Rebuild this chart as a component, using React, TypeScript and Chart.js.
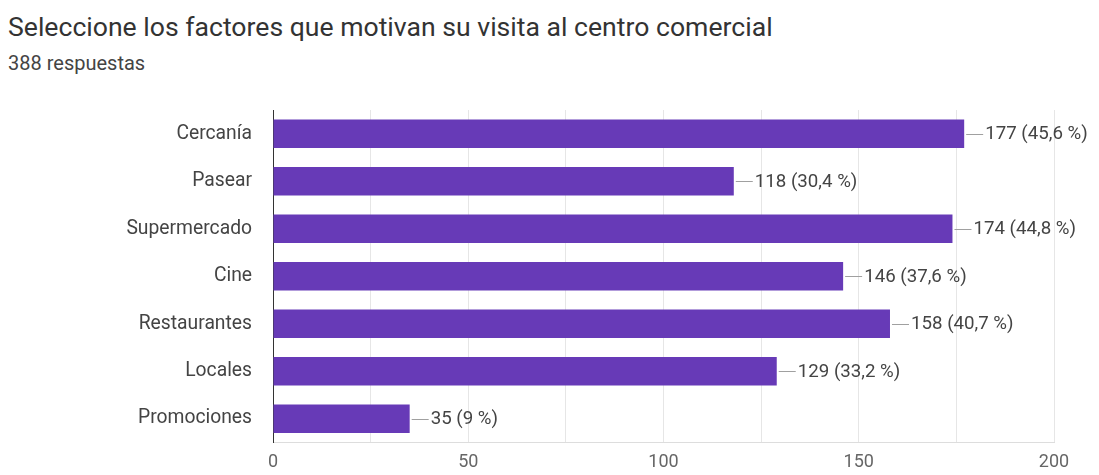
import React, { useEffect, useRef } from "react";
import { Chart, registerables } from "chart.js";

Chart.register(...registerables);

const titleText = "Seleccione los factores que motivan su visita al centro comercial";
const subtitleText = "388 respuestas";
const categories = ["Cercanía", "Pasear", "Supermercado", "Cine", "Restaurantes", "Locales", "Promociones"];
const counts = [177, 118, 174, 146, 158, 129, 35];
const percentLabels = ["45,6 %", "30,4 %", "44,8 %", "37,6 %", "40,7 %", "33,2 %", "9 %"];
const tickLabels = [0, 50, 100, 150, 200];

const FONT = "Roboto, 'Noto Sans', Arial, sans-serif";

const valueLabelPlugin = {
  id: "valueLabels",
  afterDatasetsDraw(chart: any) {
    const ctx = chart.ctx;
    const meta = chart.getDatasetMeta(0);
    ctx.save();
    meta.data.forEach((bar: any, i: number) => {
      const x = bar.x;
      const y = bar.y;
      ctx.strokeStyle = "#a0a0a0";
      ctx.lineWidth = 1;
      ctx.beginPath();
      ctx.moveTo(x + 2, Math.round(y) + 0.5);
      ctx.lineTo(x + 19, Math.round(y) + 0.5);
      ctx.stroke();
      ctx.fillStyle = "#444444";
      ctx.font = "18.7px " + FONT;
      ctx.textAlign = "left";
      ctx.textBaseline = "middle";
      ctx.fillText(`${counts[i]} (${percentLabels[i]})`, x + 21, y + 1);
    });
    ctx.restore();
  },
};

export default function App() {
  const ref = useRef<HTMLCanvasElement | null>(null);
  useEffect(() => {
    if (!ref.current) return;
    const chart = new Chart(ref.current, {
      type: "bar",
      data: {
        labels: categories,
        datasets: [
          {
            data: counts,
            backgroundColor: "#673ab7",
            borderWidth: 0,
            barPercentage: 0.6,
            categoryPercentage: 1,
          },
        ],
      },
      options: {
        indexAxis: "y",
        animation: false,
        responsive: false,
        maintainAspectRatio: false,
        layout: { padding: { top: 110, right: 45, bottom: 0, left: 0 } },
        plugins: {
          legend: { display: false },
          tooltip: { enabled: false },
          title: { display: false },
        },
        scales: {
          x: {
            min: 0,
            max: 200,
            afterFit(scale: any) {
              scale.height = 31;
            },
            ticks: {
              stepSize: 25,
              padding: 9,
              color: "#666666",
              font: { family: FONT, size: 18 },
              autoSkip: false,
              maxRotation: 0,
              callback(value: any) {
                return tickLabels.includes(Number(value)) ? String(value) : "";
              },
            },
            grid: { color: "#e6e6e6", drawTicks: false },
            border: { display: true, color: "#dddddd" },
          },
          y: {
            afterFit(scale: any) {
              scale.width = 273;
            },
            ticks: {
              padding: 21,
              color: "#444444",
              font: { family: FONT, size: 19.3 },
            },
            grid: { display: false, drawTicks: false },
            border: { display: true, color: "#333333", width: 1 },
          },
        },
      },
      plugins: [valueLabelPlugin],
    });
    return () => chart.destroy();
  }, []);

  return (
    <div style={{ position: "fixed", left: 0, top: 0, width: 1099, height: 475, background: "#ffffff", fontFamily: FONT }}>
      <div style={{ position: "absolute", left: 8, top: 14, fontSize: 26.6, lineHeight: 1, color: "#333333", whiteSpace: "nowrap" }}>{titleText}</div>
      <div style={{ position: "absolute", left: 8, top: 53, fontSize: 20, lineHeight: 1, color: "#444444", whiteSpace: "nowrap" }}>{subtitleText}</div>
      <canvas ref={ref} width={1099} height={475} style={{ position: "absolute", left: 0, top: 0 }} />
    </div>
  );
}
